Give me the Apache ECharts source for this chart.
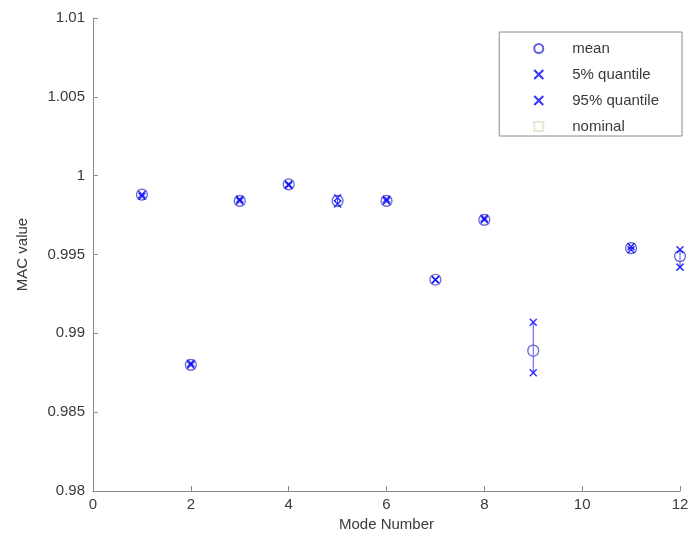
<!DOCTYPE html>
<html><head><meta charset="utf-8">
<script src="https://cdn.jsdelivr.net/npm/echarts@6/dist/echarts.min.js"></script>
<style>html,body{margin:0;padding:0;background:#fff}#c{width:693px;height:540px}</style>
</head><body><div id="c"></div>
<script>
const modes   = [1, 2, 3, 4, 5, 6, 7, 8, 9, 11, 12];
const meanVal = [0.9988, 0.9880, 0.9984, 0.99945, 0.9984, 0.9984, 0.9934, 0.9972, 0.9889, 0.9954, 0.9949];
const q5Val   = [0.9987, 0.9880, 0.9984, 0.99940, 0.9982, 0.9984, 0.9934, 0.9972, 0.9875, 0.9953, 0.9942];
const q95Val  = [0.9988, 0.9881, 0.9985, 0.99945, 0.9986, 0.9985, 0.9934, 0.9973, 0.9907, 0.9955, 0.9953];
const nomVal  = [0.9988, 0.9880, 0.9984, 0.99945, 0.9984, 0.9984, 0.9934, 0.9972, 0.9889, 0.9954, 0.9949];
const yTicks  = ['0.98', '0.985', '0.99', '0.995', '1', '1.005', '1.01'];

const pair = (vals) => modes.map((m, i) => [m, vals[i]]);
const xPath = 'path://M0,0L10,10M10,0L0,10';
const font = "'Liberation Sans', Arial, sans-serif";
const txt = '#3a3a3a';
const axisCol = '#8a8a8a';

const chart = echarts.init(document.getElementById('c'));
chart.setOption({
  animation: false,
  backgroundColor: '#fff',
  textStyle: {fontFamily: font},
  grid: {left: 93, right: 13, top: 18, bottom: 49},
  legend: {
    orient: 'vertical', right: 11, top: 32,
    backgroundColor: '#fff', borderColor: axisCol, borderWidth: 1,
    padding: [9, 23, 2, 34], itemGap: 11, itemWidth: 9, itemHeight: 9,
    textStyle: {fontSize: 15, color: txt, fontFamily: font, padding: [0, 0, 0, 24]},
    data: ['mean', '5% quantile', '95% quantile', 'nominal']
  },
  xAxis: {
    type: 'value', min: 0, max: 12, interval: 2,
    name: 'Mode Number', nameLocation: 'middle', nameGap: 24,
    nameTextStyle: {fontSize: 15, color: txt, fontFamily: font},
    axisLine: {lineStyle: {color: axisCol}},
    axisTick: {inside: true, length: 5, lineStyle: {color: axisCol}},
    axisLabel: {fontSize: 15, color: txt, margin: 6, fontFamily: font},
    splitLine: {show: false}
  },
  yAxis: {
    type: 'value', min: 0.98, max: 1.01, interval: 0.005,
    name: 'MAC value', nameLocation: 'middle', nameGap: 63,
    nameTextStyle: {fontSize: 15, color: txt, fontFamily: font},
    axisLine: {show: true, lineStyle: {color: axisCol}},
    axisTick: {show: true, inside: true, length: 5, lineStyle: {color: axisCol}},
    axisLabel: {fontSize: 15, color: txt, margin: 8, fontFamily: font,
      formatter: (v) => { const s = yTicks.find(t => Math.abs(parseFloat(t) - v) < 1e-9); return s || ''; }},
    splitLine: {show: false}
  },
  series: [
    {
      name: 'errbar', type: 'custom', silent: true, z: 1,
      data: modes.map((m, i) => [m, q5Val[i], q95Val[i]]),
      renderItem: (params, api) => {
        const p1 = api.coord([api.value(0), api.value(1)]);
        const p2 = api.coord([api.value(0), api.value(2)]);
        return {type: 'line', shape: {x1: p1[0], y1: p1[1], x2: p2[0], y2: p2[1]},
          style: {stroke: '#5050ff', lineWidth: 1}};
      }
    },
    {
      name: 'nominal', type: 'scatter', data: pair(nomVal), z: 2,
      symbol: 'rect', symbolSize: 9,
      itemStyle: {color: 'transparent', borderColor: '#e2e2c8', borderWidth: 1}
    },
    {
      name: 'mean', type: 'scatter', data: pair(meanVal), z: 3,
      symbol: 'circle', symbolSize: 11,
      itemStyle: {color: 'transparent', borderColor: '#3b3bd8', borderWidth: 1.2}
    },
    {
      name: '5% quantile', type: 'scatter', data: pair(q5Val), z: 4,
      symbol: xPath, symbolSize: 7,
      itemStyle: {color: 'transparent', borderColor: '#0000ff', borderWidth: 1.5}
    },
    {
      name: '95% quantile', type: 'scatter', data: pair(q95Val), z: 4,
      symbol: xPath, symbolSize: 7,
      itemStyle: {color: 'transparent', borderColor: '#0000ff', borderWidth: 1.5}
    }
  ]
});
</script></body></html>
